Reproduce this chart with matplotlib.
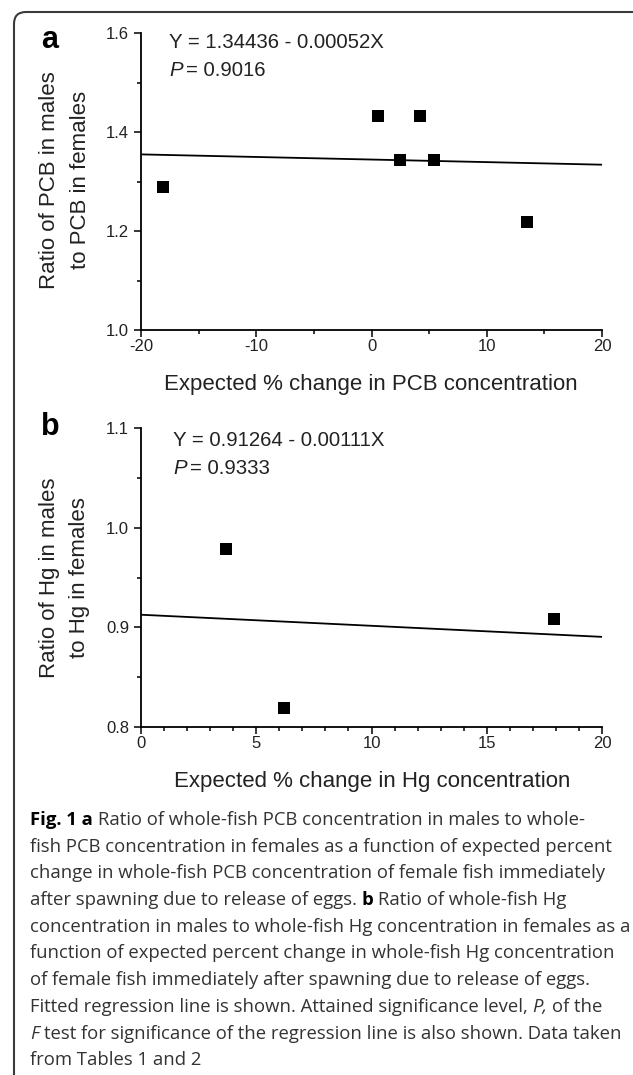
import numpy as np
import matplotlib
matplotlib.use("Agg")
import matplotlib.pyplot as plt
from matplotlib import font_manager
from matplotlib.patches import FancyBboxPatch
from matplotlib.ticker import MultipleLocator, FuncFormatter

# ── data ──────────────────────────
pcb_x = [-18.1, 0.6, 4.2, 2.5, 5.4, 13.5]
pcb_y = [1.289, 1.433, 1.433, 1.343, 1.343, 1.218]
pcb_fit = (1.34436, -0.00052)
pcb_p = "0.9016"

hg_x = [3.7, 6.2, 17.9]
hg_y = [0.979, 0.819, 0.908]
hg_fit = (0.91264, -0.00111)
hg_p = "0.9333"

caption_lines = [
    [("Fig. 1 a", "b"), ("Ratio of whole-fish PCB concentration in males to whole-", "n")],
    [("fish PCB concentration in females as a function of expected percent", "n")],
    [("change in whole-fish PCB concentration of female fish immediately", "n")],
    [("after spawning due to release of eggs.", "n"), ("b", "b"), ("Ratio of whole-fish Hg", "n")],
    [("concentration in males to whole-fish Hg concentration in females as a", "n")],
    [("function of expected percent change in whole-fish Hg concentration", "n")],
    [("of female fish immediately after spawning due to release of eggs.", "n")],
    [("Fitted regression line is shown. Attained significance level,", "n"), ("P,", "i"), ("of the", "n")],
    [("F", "i"), ("test for significance of the regression line is also shown. Data taken", "n")],
    [("from Tables 1 and 2", "n")],
]

W, H = 633, 1075
CHART_FONT = "Liberation Sans"


def has_bold(fam):
    try:
        path = font_manager.findfont(font_manager.FontProperties(family=fam, weight="bold"),
                                     fallback_to_default=False)
    except Exception:
        return False
    return "bold" in path.lower()


# caption font: humanist sans with a real bold face
CAP_FONT = next((f for f in ["Noto Sans", "Open Sans", "Lato"] if has_bold(f)), "DejaVu Sans")

fig = plt.figure(figsize=(W / 100, H / 100), dpi=100)

# background frame (pixel coords)
bg = fig.add_axes([0, 0, 1, 1])
bg.set_xlim(0, W)
bg.set_ylim(H, 0)
bg.axis("off")
bg.add_patch(FancyBboxPatch((14, 12), W + 50, H + 50,
                            boxstyle="round,pad=0,rounding_size=12",
                            fc="none", ec="#3a3a3a", lw=1.5))


def px(x, y):
    return x / W, 1 - y / H


def make_panel(top, bottom, xs, ys, fit, xlim, ylim, xmaj, xmin, ymaj, ymin):
    left, right = 141, 602
    ax = fig.add_axes([left / W, 1 - bottom / H, (right - left) / W, (bottom - top) / H])
    ax.scatter(xs, ys, marker="s", s=66, c="black", zorder=3, linewidths=0)
    xx = np.array(xlim)
    ax.plot(xx, fit[0] + fit[1] * xx, color="black", lw=1.3)
    ax.set_xlim(xlim)
    ax.set_ylim(ylim)
    for s in ("top", "right"):
        ax.spines[s].set_visible(False)
    for s in ("left", "bottom"):
        ax.spines[s].set_linewidth(1.3)
    ax.xaxis.set_major_locator(MultipleLocator(xmaj))
    ax.xaxis.set_minor_locator(MultipleLocator(xmin))
    ax.yaxis.set_major_locator(MultipleLocator(ymaj))
    ax.yaxis.set_minor_locator(MultipleLocator(ymin))
    ax.xaxis.set_major_formatter(FuncFormatter(lambda v, p: f"{v:.0f}"))
    ax.yaxis.set_major_formatter(FuncFormatter(lambda v, p: f"{v:.1f}"))
    ax.tick_params(which="major", direction="out", length=5, width=1.1,
                   labelsize=12, labelcolor="#222222")
    ax.tick_params(axis="x", which="major", pad=1.5)
    ax.tick_params(axis="y", which="major", pad=3.5)
    ax.tick_params(which="minor", direction="out", length=3, width=1.1)
    for lab in ax.get_xticklabels() + ax.get_yticklabels():
        lab.set_fontfamily(CHART_FONT)
    ax.patch.set_alpha(0)
    return ax


ax_a = make_panel(33, 330, pcb_x, pcb_y, pcb_fit, (-20, 20), (1.0, 1.6), 10, 5, 0.2, 0.1)
ax_b = make_panel(428, 727, hg_x, hg_y, hg_fit, (0, 20), (0.8, 1.1), 5, 1, 0.1, 0.05)

lab_kw = dict(family=CHART_FONT, fontsize=16, color="#222222")

# panel letters
fig.text(*px(41, 40), "a", fontsize=22, fontweight="bold", family=CHART_FONT,
         va="center", ha="left")
fig.text(*px(41, 427), "b", fontsize=22, fontweight="bold", family=CHART_FONT,
         va="center", ha="left")

# y labels (two lines each)
for cy, l1, l2 in [(180, "Ratio of PCB in males", "to PCB in females"),
                   (578, "Ratio of Hg in males", "to Hg in females")]:
    fig.text(*px(50, cy), l1, rotation=90, ha="center", va="center", **lab_kw)
    fig.text(*px(80, cy), l2, rotation=90, ha="center", va="center", **lab_kw)

# x labels
fig.text(*px(371, 385), "Expected % change in PCB concentration", ha="center", va="center", **lab_kw)
fig.text(*px(372, 782), "Expected % change in Hg concentration", ha="center", va="center", **lab_kw)

fig.canvas.draw()
renderer = fig.canvas.get_renderer()


def space_width(size, family):
    t1 = fig.text(0, 0, "x x", fontsize=size, family=family)
    t2 = fig.text(0, 0, "xx", fontsize=size, family=family)
    w = t1.get_window_extent(renderer).width - t2.get_window_extent(renderer).width
    t1.remove()
    t2.remove()
    return w


def seg_text(x, y, segments, size, family, space_w):
    """draw a run of styled segments left to right, pixel coords"""
    for i, (txt, style) in enumerate(segments):
        kw = dict(fontsize=size, family=family, va="center", ha="left", color="#333333")
        if style == "b":
            kw.update(fontweight="bold", color="black")
        elif style == "i":
            kw.update(style="italic")
        t = fig.text(*px(x, y), txt, **kw)
        x += t.get_window_extent(renderer).width
        if i < len(segments) - 1:
            x += space_w
    return x


# regression equations
eq_size = 14.7
for ex, ey, fit, p in [(169, 43, pcb_fit, pcb_p), (173, 440, hg_fit, hg_p)]:
    fig.text(*px(ex, ey), f"Y = {fit[0]:.5f} - {abs(fit[1]):.5f}X", fontsize=eq_size,
             family=CHART_FONT, va="center", ha="left", color="#222222")
    tp = fig.text(*px(ex, ey + 28), "P", fontsize=eq_size, family=CHART_FONT,
                  style="italic", va="center", ha="left", color="#222222")
    wp = tp.get_window_extent(renderer).width
    fig.text(*px(ex + wp + 3, ey + 28), "= " + p, fontsize=eq_size, family=CHART_FONT,
             va="center", ha="left", color="#222222")

# caption
cap_size = 13.3
csw = space_width(cap_size, CAP_FONT)
for i, line in enumerate(caption_lines):
    seg_text(30, 820 + i * 26.7, line, cap_size, CAP_FONT, csw)

fig.savefig("out.png", dpi=100)
